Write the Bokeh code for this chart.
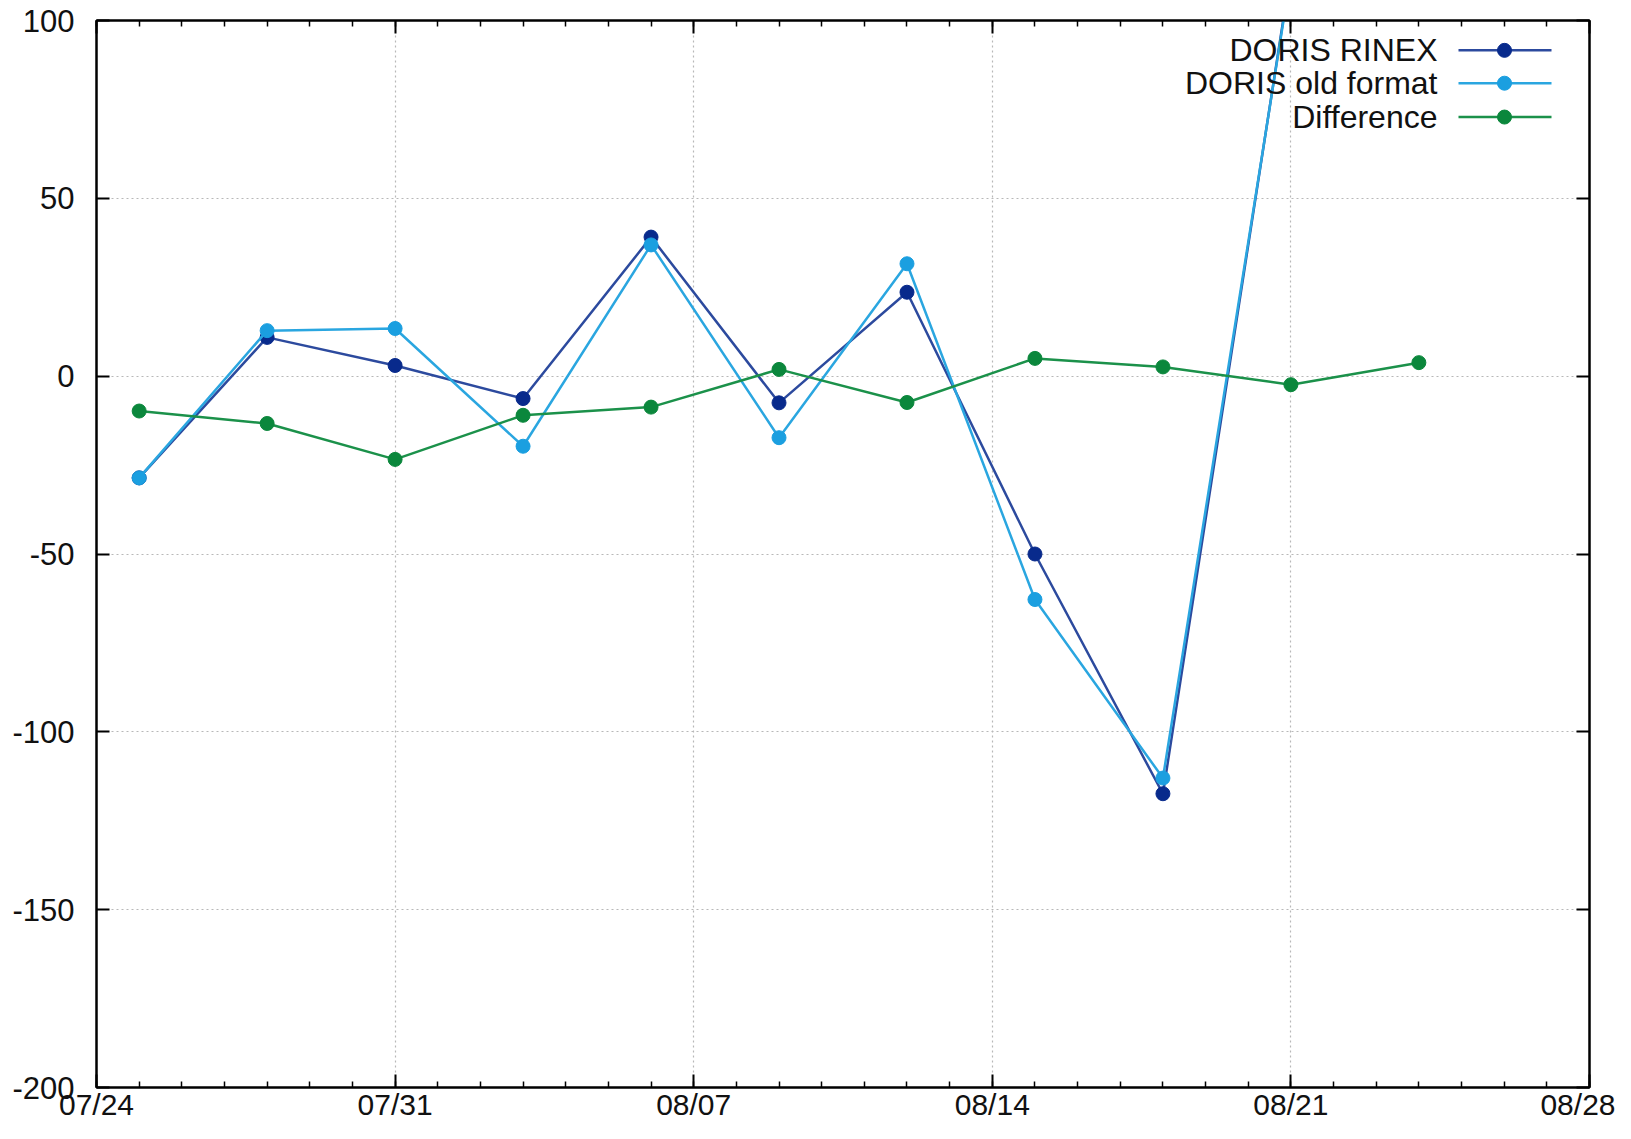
import pandas as pd
from bokeh.plotting import figure
from bokeh.models import (FixedTicker, DatetimeTickFormatter, DatetimeAxis, LinearAxis,
                          Range1d, ColumnDataSource)
from bokeh.core.properties import value
from bokeh.embed import file_html
from bokeh.resources import INLINE

# ---------------- data ----------------
dates = ["2022-07-25", "2022-07-28", "2022-07-31", "2022-08-03", "2022-08-06", "2022-08-09",
         "2022-08-12", "2022-08-15", "2022-08-18", "2022-08-21", "2022-08-24"]
rinex = [-28.6, 10.9, 3.0, -6.3, 39.1, -7.5, 23.6, -50.0, -117.4, 114.0]
old_format = [-28.6, 12.8, 13.4, -19.7, 36.9, -17.3, 31.6, -62.8, -113.0, 113.0]
difference = [-9.8, -13.3, -23.4, -11.0, -8.7, 1.9, -7.4, 5.0, 2.6, -2.4, 3.8]
x_tick_dates = ["2022-07-24", "2022-07-31", "2022-08-07", "2022-08-14", "2022-08-21", "2022-08-28"]
y_ticks = [-200, -150, -100, -50, 0, 50, 100]
y_tick_labels = ["-200", "-150", "-100", "-50", "0", "50", "100"]
series_names = ["DORIS RINEX", "DORIS old format", "Difference"]

def ms(d):
    return pd.Timestamp(d).value // 10**6

x = [ms(d) for d in dates]
DAY = 86400000
x_start, x_end = ms(x_tick_dates[0]), ms(x_tick_dates[-1])
y_start, y_end = y_ticks[0], y_ticks[-1]

FONT = "Liberation Sans"
TXT = "#111111"

W, H = 1615, 1123
FRAME_L, FRAME_R, FRAME_T, FRAME_B = 96, 1589, 20, 1092

p = figure(width=W, height=H, output_backend="svg", toolbar_location=None,
           x_axis_type="datetime",
           x_range=Range1d(x_start, x_end), y_range=Range1d(y_start, y_end),
           min_border_left=FRAME_L, min_border_right=W - FRAME_R,
           min_border_top=FRAME_T, min_border_bottom=H - FRAME_B)
p.background_fill_color = "white"
p.border_fill_color = "white"
p.outline_line_color = "black"
p.outline_line_width = 2

x_major = [ms(d) for d in x_tick_dates]
x_minor = list(range(x_start, x_end + 1, DAY))
xticker = FixedTicker(ticks=x_major, minor_ticks=x_minor)
yticker = FixedTicker(ticks=y_ticks, minor_ticks=[])
fmt = DatetimeTickFormatter(milliseconds="%m/%d", seconds="%m/%d", minsec="%m/%d", minutes="%m/%d",
                            hourmin="%m/%d", hours="%m/%d", days="%m/%d", months="%m/%d", years="%m/%d")

def style_axis(ax, ticker, labels=True, fs="31px"):
    ax.ticker = ticker
    ax.axis_line_color = "black"
    ax.axis_line_width = 2
    ax.major_tick_line_color = "black"
    ax.major_tick_line_width = 2
    ax.minor_tick_line_color = "black"
    ax.minor_tick_line_width = 1.5
    ax.major_tick_in = 13
    ax.major_tick_out = 0
    ax.minor_tick_in = 6
    ax.minor_tick_out = 0
    if labels:
        ax.major_label_text_font = FONT
        ax.major_label_text_font_size = fs
        ax.major_label_text_color = TXT
    else:
        ax.major_label_text_font_size = "0px"
        ax.major_label_standoff = 0

xa = p.xaxis[0]
style_axis(xa, xticker, fs="30px")
xa.formatter = fmt
xa.major_label_standoff = 0
ya = p.yaxis[0]
style_axis(ya, yticker, fs="31px")
ya.major_label_standoff = 22
ya.major_label_overrides = {t: s for t, s in zip(y_ticks, y_tick_labels)}

top = DatetimeAxis()
style_axis(top, xticker, labels=False)
p.add_layout(top, "above")
right = LinearAxis()
style_axis(right, yticker, labels=False)
p.add_layout(right, "right")

for g, t in ((p.xgrid, xticker), (p.ygrid, yticker)):
    g.ticker = t
    g.grid_line_color = "#b8b8b8"
    g.grid_line_dash = "2 3"
    g.grid_line_width = 1.2

styles = [("#2c4a9e", "#082a8c"), ("#2aa6e0", "#1b9fe0"), ("#1b914a", "#0b873c")]
series = [rinex, old_format, difference]
for (lc, mc), vals in zip(styles, series):
    src = ColumnDataSource(dict(x=x[:len(vals)], y=vals))
    p.line("x", "y", source=src, line_color=lc, line_width=2.5)
    p.scatter("x", "y", source=src, size=14, fill_color=mc, line_color=mc)

# ---------------- manual legend (gnuplot style: text left, sample right) ----------------
def dx(px):
    return x_start + (px - FRAME_L) / (FRAME_R - FRAME_L) * (x_end - x_start)
def dy(py):
    return y_end - (py - FRAME_T) / (FRAME_B - FRAME_T) * (y_end - y_start)

rows = [50, 83, 117]
for name, (lc, mc), py in zip(series_names, styles, rows):
    p.text(x=[dx(1437)], y=[dy(py)], text=[name], text_align="right", text_baseline="middle",
           text_font=value(FONT), text_font_size="32px", text_color=TXT)
    p.segment(x0=[dx(1458)], y0=[dy(py)], x1=[dx(1551)], y1=[dy(py)], line_color=lc, line_width=2.5)
    p.scatter(x=[dx(1504)], y=[dy(py)], size=14, fill_color=mc, line_color=mc)

open("out.html", "w").write(file_html(p, INLINE))
